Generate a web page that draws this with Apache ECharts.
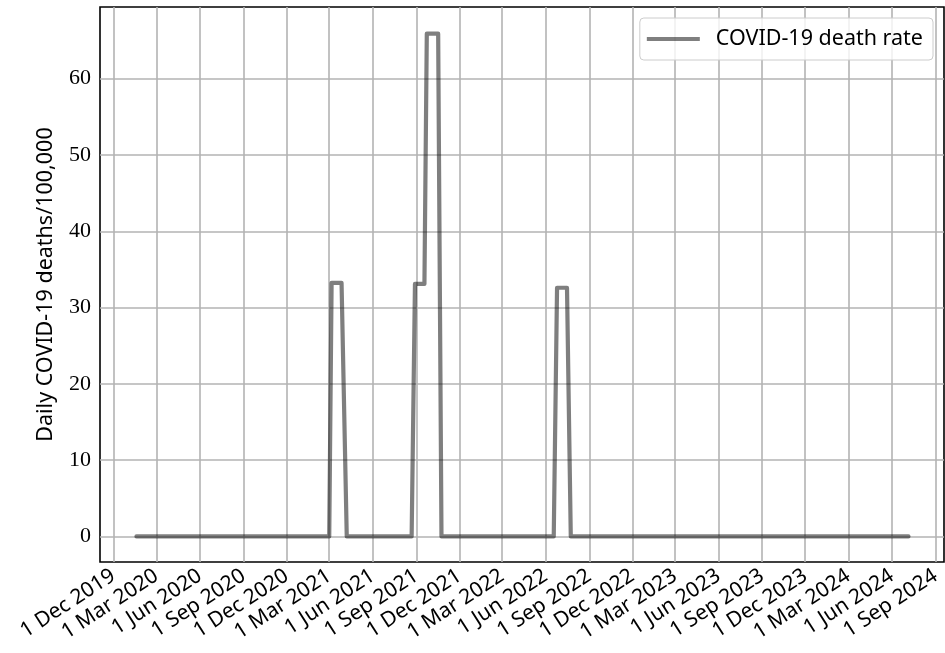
<!DOCTYPE html>
<html>
<head>
<meta charset="utf-8">
<script src="https://cdn.jsdelivr.net/npm/echarts@6/dist/echarts.min.js"></script>
<style>
html,body{margin:0;padding:0;background:#fff;}
#chart{width:945px;height:653px;}
</style>
</head>
<body>
<div id="chart"></div>
<script>
// ---- data ----
const seriesName = 'COVID-19 death rate';
const pointDates = ['2020-01-19','2021-03-01','2021-03-06','2021-03-27','2021-04-07',
  '2021-08-22','2021-08-29','2021-09-18','2021-09-23','2021-10-17','2021-10-24',
  '2022-06-18','2022-06-25','2022-07-16','2022-07-24','2024-07-06'];
const pointValues = [0,0,33.25,33.25,0,
  0,33.1,33.1,65.9,65.9,0,
  0,32.6,32.6,0,0];
const tickDates = ['2019-12-01','2020-03-01','2020-06-01','2020-09-01','2020-12-01',
  '2021-03-01','2021-06-01','2021-09-01','2021-12-01','2022-03-01','2022-06-01',
  '2022-09-01','2022-12-01','2023-03-01','2023-06-01','2023-09-01','2023-12-01',
  '2024-03-01','2024-06-01','2024-09-01'];
const yTicks = [0,10,20,30,40,50,60];
const monthNames = ['Jan','Feb','Mar','Apr','May','Jun','Jul','Aug','Sep','Oct','Nov','Dec'];
const xMin = '2019-11-03', xMax = '2024-09-19';
const yMin = -3.35, yMax = 69.4;
const yTitle = 'Daily COVID-19 deaths/100,000';

function ts(s){ return new Date(s + 'T00:00:00').getTime(); }

const chart = echarts.init(document.getElementById('chart'), null, {renderer:'canvas'});
const gridColor = '#b3b3b3';
const sans = '"Noto Sans", "DejaVu Sans", sans-serif';
const serif = '"Liberation Serif", "DejaVu Serif", serif';
const lineColor = 'rgba(0,0,0,0.5)';

chart.setOption({
  animation: false,
  backgroundColor: '#fff',
  grid: {left: 100, right: 1, top: 7, bottom: 91, show: true, borderColor: '#000', borderWidth: 1.6, containLabel: false},
  legend: {
    show: true, right: 12, top: 18,
    data: [seriesName],
    icon: 'rect', itemWidth: 53, itemHeight: 4,
    padding: [10, 10, 10, 7],
    backgroundColor: 'rgba(255,255,255,0.8)',
    borderColor: '#cccccc', borderWidth: 1, borderRadius: 4,
    textStyle: {fontFamily: sans, fontSize: 21.5, color: '#000', padding: [0,0,0,11]}
  },
  xAxis: {
    type: 'value', min: ts(xMin), max: ts(xMax),
    axisLine: {show: false},
    axisTick: {show: false, customValues: tickDates.map(ts)},
    splitLine: {show: true, customValues: tickDates.map(ts), lineStyle: {color: gridColor, width: 1.6}},
    axisLabel: {
      show: true, customValues: tickDates.map(ts), rotate: 33, margin: 12,
      fontFamily: sans, fontSize: 21, color: '#000',
      formatter: function(v){ const d = new Date(v); return d.getDate() + ' ' + monthNames[d.getMonth()] + ' ' + d.getFullYear(); }
    }
  },
  yAxis: {
    type: 'value', min: yMin, max: yMax,
    name: yTitle, nameLocation: 'middle', nameRotate: 90, nameGap: 43,
    nameTextStyle: {fontFamily: sans, fontSize: 21.5, color: '#000'},
    axisLine: {show: false},
    axisTick: {show: false, customValues: yTicks},
    splitLine: {show: true, customValues: yTicks, lineStyle: {color: gridColor, width: 1.6}},
    axisLabel: {show: true, customValues: yTicks, margin: 9, fontFamily: serif, fontSize: 22, color: '#000'}
  },
  series: [{
    name: seriesName, type: 'line',
    data: pointDates.map((d, i) => [ts(d), pointValues[i]]),
    showSymbol: false, symbol: 'none',
    lineStyle: {color: lineColor, width: 4.2, join: 'round', cap: 'round'},
    itemStyle: {color: lineColor},
    z: 3
  }]
});
</script>
</body>
</html>
